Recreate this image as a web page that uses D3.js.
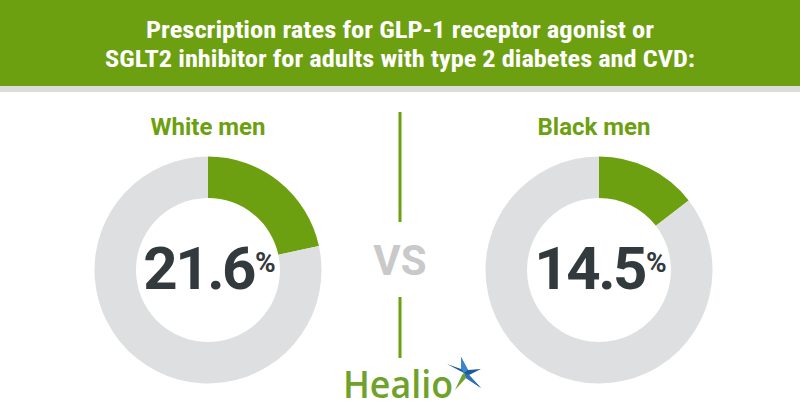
<!DOCTYPE html>
<html><head><meta charset="utf-8">
<script src="https://cdn.jsdelivr.net/npm/d3@7"></script>
<style>body{margin:0;background:#fff;}svg{display:block;}</style>
</head><body>
<svg id="c" width="800" height="420"></svg>
<script>
const titleLines = ["Prescription rates for GLP-1 receptor agonist or", "SGLT2 inhibitor for adults with type 2 diabetes and CVD:"];
const groups = ["White men", "Black men"];
const rates = [21.6, 14.5];
const compareLabel = "VS";
const brand = "Healio";

const GREEN = "#6ca011", GRAY = "#dedfe0", DARK = "#333a3d";
const svg = d3.select("#c");

// header
svg.append("rect").attr("x",0).attr("y",0).attr("width",800).attr("height",86).attr("fill",GREEN);
svg.append("rect").attr("x",0).attr("y",86).attr("width",800).attr("height",6).attr("fill","#dcdcdc");
const tl = [{b:38, w:508},{b:67, w:590}];
svg.selectAll("text.title").data(titleLines).join("text").attr("class","title")
  .attr("x",400).attr("y",(d,i)=>tl[i].b).attr("text-anchor","middle")
  .attr("font-family","'Liberation Sans Narrow','Roboto Condensed','Roboto',sans-serif")
  .attr("font-weight","bold").attr("font-size",23).attr("fill","#fff")
  .attr("textLength",(d,i)=>tl[i].w).attr("lengthAdjust","spacingAndGlyphs")
  .text(d=>d);

// position scale for the two panels
const xPos = d3.scalePoint().domain(groups).range([208, 599]);
const labelX = d3.scalePoint().domain(groups).range([208, 594]);
const cy = 270, R = 113.5, r = 72;
const pie = d3.pie().sort(null).value(d=>d);
const arc = d3.arc().innerRadius(r).outerRadius(R);

groups.forEach((g,i)=>{
  const cx = xPos(g);
  const gg = svg.append("g").attr("transform",`translate(${cx},${cy})`);
  gg.selectAll("path").data(pie([rates[i], 100-rates[i]])).join("path")
    .attr("d",arc).attr("fill",(d,j)=>j===0?GREEN:GRAY);
  svg.append("text").attr("x",labelX(g)).attr("y",135).attr("text-anchor","middle")
    .attr("font-family","Roboto,sans-serif").attr("font-weight","bold").attr("font-size",24)
    .attr("fill",GREEN).text(g);
  // number + superscript %
  const t = svg.append("text").attr("y",289).attr("font-family","Roboto,sans-serif")
    .attr("font-weight","bold").attr("fill",DARK);
  t.append("tspan").attr("font-size",60).attr("letter-spacing",-2.5).text(rates[i].toFixed(1));
  t.append("tspan").attr("font-size",28).attr("dy",-17).attr("dx",1).text("%");
  const w = t.node().getComputedTextLength();
  t.attr("x", cx + 1 - w/2);
});

// VS and divider
svg.append("text").attr("x",400).attr("y",275).attr("text-anchor","middle")
  .attr("font-family","Roboto,sans-serif").attr("font-weight","bold").attr("font-size",42)
  .attr("fill","#c9c9c9").text(compareLabel);
[[112,222],[297,358]].forEach(s=>{
  svg.append("rect").attr("x",398.5).attr("y",s[0]).attr("width",3).attr("height",s[1]-s[0]).attr("fill",GREEN);
});

// logo
svg.append("text").attr("x",343).attr("y",398).attr("font-family","'Open Sans',sans-serif")
  .attr("font-weight",600).attr("font-size",37).attr("fill","#6fa22c")
  .attr("textLength",110).attr("lengthAdjust","spacingAndGlyphs").text(brand);
const st = svg.append("g").attr("transform","translate(464,373)");
// blue star
st.append("path").attr("d","M0,0 L-17,-9 L-3,-4 L-3,-16 L4,-3 L17,-4 L5,2 L17,15 L2,5 Z").attr("fill","#1d5a9a");
st.append("path").attr("d","M0,0 L-3,-4 L-3,-16 L4,-3 Z").attr("fill","#3f86c8");
st.append("path").attr("d","M0,0 L5,2 L17,15 L2,5 Z").attr("fill","#2f73b5");
// green point
st.append("path").attr("d","M0,0 L2,5 L-9,17 L-2,2 Z").attr("fill","#6fa22c");
</script>
</body></html>
